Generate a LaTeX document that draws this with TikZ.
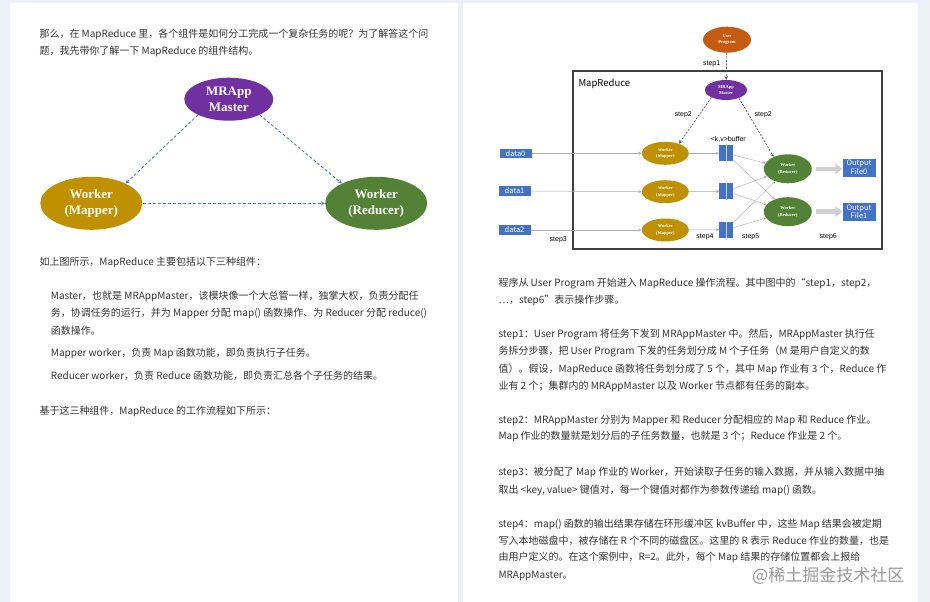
\documentclass[tikz,border=0pt]{standalone}
\usepackage{fontspec}
\usepackage{tikz}
\usetikzlibrary{shapes.geometric,arrows.meta}
\setmainfont{Noto Sans CJK SC}
\newfontfamily\ovalfont{Liberation Serif}
\newfontfamily\tagfont{Liberation Sans}

\definecolor{pagebg}{HTML}{EDF0F7}
\definecolor{bodytext}{HTML}{333333}
\definecolor{mrpurple}{HTML}{7030A0}
\definecolor{mrgold}{HTML}{BF9000}
\definecolor{mrgreen}{HTML}{538135}
\definecolor{mrorange}{HTML}{C55A11}
\definecolor{mrblue}{HTML}{4472C4}
\definecolor{flowgray}{HTML}{ABABAB}
\definecolor{stepgray}{HTML}{595959}

\tikzset{
  textline/.style={anchor=base west, inner sep=0, text=bodytext, font=\fontsize{10}{12}\selectfont},
  oval/.style={ellipse, fill=#1, text=white, inner sep=0, align=center},
  bigoval/.style={oval=#1, minimum width=102pt, minimum height=53pt, font=\ovalfont\bfseries\fontsize{13}{15.5}\selectfont},
  tinyoval/.style={oval=#1, minimum width=47pt, minimum height=23pt, font=\ovalfont\bfseries\fontsize{4.5}{6.5}\selectfont},
  steptag/.style={inner sep=0, text=black, font=\tagfont\fontsize{7}{8}\selectfont},
  bluebox/.style={fill=mrblue, text=white, inner sep=0, align=center, font=\fontsize{7.5}{8.5}\selectfont},
  kvbox/.style={fill=mrblue, minimum width=14pt, minimum height=16pt, inner sep=0},
  link/.style={->, >=stealth, mrblue, line width=0.8pt, dash pattern=on 3pt off 2pt},
  call/.style={->, >=stealth, stepgray, line width=0.7pt, dash pattern=on 2pt off 1.5pt},
  flow/.style={->, >=stealth, flowgray, line width=0.5pt},
  fatflow/.style={-{Triangle[length=7pt,width=11pt]}, black!18, line width=4.5pt},
}

\begin{document}
\begin{tikzpicture}[x=1pt,y=-1pt]
    \useasboundingbox (0,0) rectangle (930,602);
    % pages
    \fill [pagebg] (0,0) rectangle (930,602);
    \fill [white] (10,3) rectangle (458,602);
    \fill [white] (463,3) rectangle (918,602);

    % left page: text
    \node [textline] (l1) at (39.3,37.3) {那么，在 MapReduce 里，各个组件是如何分工完成一个复杂任务的呢？为了解答这个问};
    \node [textline] (l2) at (39.3,54.7) {题，我先带你了解一下 MapReduce 的组件结构。};

    % left page: components
    \node [bigoval=mrpurple, minimum width=89pt, minimum height=43pt] (mrm) at (228.8,99.2) {MRApp\\Master};
    \node [bigoval=mrgold] (mapper) at (91.3,203.3) {Worker\\(Mapper)};
    \node [bigoval=mrgreen] (reducer) at (376.2,203.3) {Worker\\(Reducer)};
    \draw [link] (mrm.207) -- (mapper.30);
    \draw [link] (mrm.-27) -- (reducer.150);
    \draw [link] (mapper.east) -- (reducer.west);

    \node [textline] (l3) at (39.3,265.7) {如上图所示，MapReduce 主要包括以下三种组件：};
    \node [textline] (l4) at (50.7,299.7) {Master，也就是 MRAppMaster，该模块像一个大总管一样，独掌大权，负责分配任};
    \node [textline] (l5) at (50.7,316.7) {务，协调任务的运行，并为 Mapper 分配 map() 函数操作、为 Reducer 分配 reduce()};
    \node [textline] (l6) at (50.7,334) {函数操作。};
    \node [textline] (l7) at (50.7,356.7) {Mapper worker，负责 Map 函数功能，即负责执行子任务。};
    \node [textline] (l8) at (50.7,379.7) {Reducer worker，负责 Reduce 函数功能，即负责汇总各个子任务的结果。};
    \node [textline] (l9) at (39.3,414.7) {基于这三种组件，MapReduce 的工作流程如下所示：};

    % right page: work flow
    \draw [black!75, line width=1.1pt] (573,71) rectangle (882,249);
    \node [anchor=west, inner sep=0, font=\fontsize{9.5}{10}\selectfont] (mrtag) at (578.3,84.3) {MapReduce};
    \node [tinyoval=mrorange, minimum width=48pt, minimum height=26pt] (user) at (727,39.7) {User\\Program};
    \node [tinyoval=mrpurple, minimum width=42pt, minimum height=20pt] (master) at (726,90) {MRApp\\Master};
    \draw [call] (user) -- (master);
    \node [steptag] (s1) at (711.7,64.3) {step1};

    \node [bluebox, minimum width=32pt, minimum height=9.5pt] (data0) at (515.5,153.3) {data0};
    \node [bluebox, minimum width=32pt, minimum height=9.5pt] (data1) at (514.5,191) {data1};
    \node [bluebox, minimum width=32pt, minimum height=9.5pt] (data2) at (514.5,230) {data2};
    \node [tinyoval=mrgold] (map0) at (665.3,153.3) {Worker\\(Mapper)};
    \node [tinyoval=mrgold] (map1) at (665.3,191.7) {Worker\\(Mapper)};
    \node [tinyoval=mrgold] (map2) at (665.3,230) {Worker\\(Mapper)};
    \node [kvbox] (buf0) at (726.3,153.3) {};
    \node [kvbox] (buf1) at (726.3,191.3) {};
    \node [kvbox] (buf2) at (726.3,229.7) {};
    \node [tinyoval=mrgreen, minimum width=48pt, minimum height=29pt] (red0) at (787.8,168.8) {Worker\\(Reducer)};
    \node [tinyoval=mrgreen, minimum width=48pt, minimum height=29pt] (red1) at (787.8,211.7) {Worker\\(Reducer)};
    \node [bluebox, minimum width=33pt, minimum height=18pt] (out0) at (859,167.5) {Output\\File0};
    \node [bluebox, minimum width=33pt, minimum height=18pt] (out1) at (859,212) {Output\\File1};

    \draw [call] (master.207) -- (map0.35);
    \draw [call] (master.-32) -- (red0.140);
    \foreach \i in {0,1,2} {
        \draw [white!70!mrblue, line width=0.5pt] (buf\i.north) -- (buf\i.south);
        \draw [flow] (data\i) -- (map\i);
        \draw [flow] (map\i) -- (buf\i);
        \draw [flow, line width=0.4pt] (buf\i) -- (red0);
        \draw [flow, line width=0.4pt] (buf\i) -- (red1);
    }
    \draw [fatflow] ([xshift=4pt]red0.east) -- (out0.west |- red0.east);
    \draw [fatflow] ([xshift=4pt]red1.east) -- (out1.west |- red1.east);

    \node [steptag] (s2a) at (683.3,115) {step2};
    \node [steptag] (s2b) at (763.3,114.3) {step2};
    \node [steptag] (kv) at (728.3,139) {<k,v>buffer};
    \node [steptag] (s3) at (558.3,240) {step3};
    \node [steptag] (s4) at (705,237) {step4};
    \node [steptag] (s5) at (750.7,237) {step5};
    \node [steptag] (s6) at (828.3,237) {step6};

    % right page: text
    \node [textline] (r1) at (498.3,286.3) {程序从 User Program 开始进入 MapReduce 操作流程。其中图中的“step1，step2，};
    \node [textline] (r2) at (498.3,303.3) {…，step6”表示操作步骤。};
    \node [textline] (r3) at (498.3,337.3) {step1：User Program 将任务下发到 MRAppMaster 中。然后，MRAppMaster 执行任};
    \node [textline] (r4) at (498.3,354.7) {务拆分步骤，把 User Program 下发的任务划分成 M 个子任务（M 是用户自定义的数};
    \node [textline] (r5) at (498.3,372.3) {值）。假设，MapReduce 函数将任务划分成了 5 个，其中 Map 作业有 3 个，Reduce 作};
    \node [textline] (r6) at (498.3,389.7) {业有 2 个；集群内的 MRAppMaster 以及 Worker 节点都有任务的副本。};
    \node [textline] (r7) at (498.3,423.3) {step2：MRAppMaster 分别为 Mapper 和 Reducer 分配相应的 Map 和 Reduce 作业。};
    \node [textline] (r8) at (498.3,439.7) {Map 作业的数量就是划分后的子任务数量，也就是 3 个；Reduce 作业是 2 个。};
    \node [textline] (r9) at (498.3,475.7) {step3：被分配了 Map 作业的 Worker，开始读取子任务的输入数据，并从输入数据中抽};
    \node [textline] (r10) at (498.3,493) {取出 <key, value> 键值对，每一个键值对都作为参数传递给 map() 函数。};
    \node [textline] (r11) at (498.3,527.3) {step4：map() 函数的输出结果存储在环形缓冲区 kvBuffer 中，这些 Map 结果会被定期};
    \node [textline] (r12) at (498.3,544) {写入本地磁盘中，被存储在 R 个不同的磁盘区。这里的 R 表示 Reduce 作业的数量，也是};
    \node [textline] (r13) at (498.3,560.7) {由用户定义的。在这个案例中，R=2。此外，每个 Map 结果的存储位置都会上报给};
    \node [textline] (r14) at (498.3,578) {MRAppMaster。};
    \node [anchor=base west, inner sep=0, text=black!40, font=\fontsize{17}{17}\selectfont] (mark) at (752,581) {@稀土掘金技术社区};
\end{tikzpicture}
\end{document}
